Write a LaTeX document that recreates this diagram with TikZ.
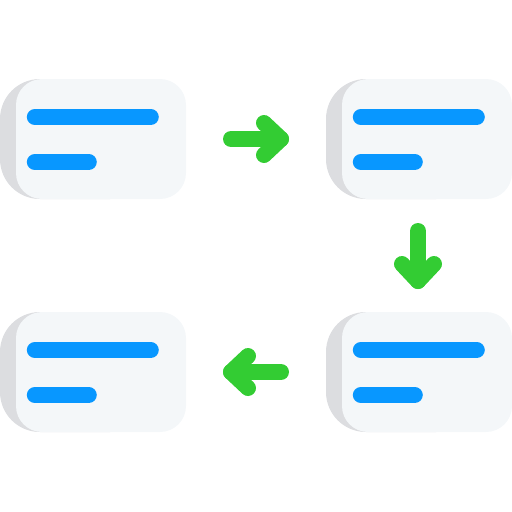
\documentclass[tikz,border=0pt]{standalone}
\usetikzlibrary{calc}
\definecolor{cardface}{HTML}{F4F7F9}
\definecolor{cardback}{HTML}{DCDDE0}
\definecolor{barblue}{HTML}{0897FF}
\definecolor{flowgreen}{HTML}{33CC33}
\tikzset{
  card/.style={fill=cardface, rounded corners=26pt, minimum width=170pt, minimum height=120pt, inner sep=0pt},
  bar/.style={barblue, line width=16pt, line cap=round},
  flow/.style={flowgreen, line width=16pt, line cap=round, line join=round}
}
\begin{document}
\begin{tikzpicture}[x=1pt, y=-1pt]
  \useasboundingbox (0,0) rectangle (512,512);
  % the four cards
  \foreach \n/\x/\y in {tl/0/79, tr/326/79, bl/0/312, br/326/312} {
    \fill[cardback, rounded corners=40pt] (\x,\y) rectangle ++(150,120);
    \node[card] (\n) at (\x+101,\y+60) {};
    \draw[bar] ($(\n.west)+(19,-22)$) -- ++(116,0);
    \draw[bar] ($(\n.west)+(19,23)$) -- ++(54,0);
  }
  % arrows
  \coordinate (a1) at (231,139);
  \coordinate (a2) at (281,139);
  \draw[flow] (a1) -- (a2);
  \draw[flow] ($(a2)+(-17,-16)$) -- (a2) -- ($(a2)+(-17,16)$);
  \coordinate (b1) at (418,231);
  \coordinate (b2) at (418,281);
  \draw[flow] (b1) -- (b2);
  \draw[flow] ($(b2)+(-16,-17)$) -- (b2) -- ($(b2)+(16,-17)$);
  \coordinate (c1) at (281,372);
  \coordinate (c2) at (231,372);
  \draw[flow] (c1) -- (c2);
  \draw[flow] ($(c2)+(17,-16)$) -- (c2) -- ($(c2)+(17,16)$);
\end{tikzpicture}
\end{document}
